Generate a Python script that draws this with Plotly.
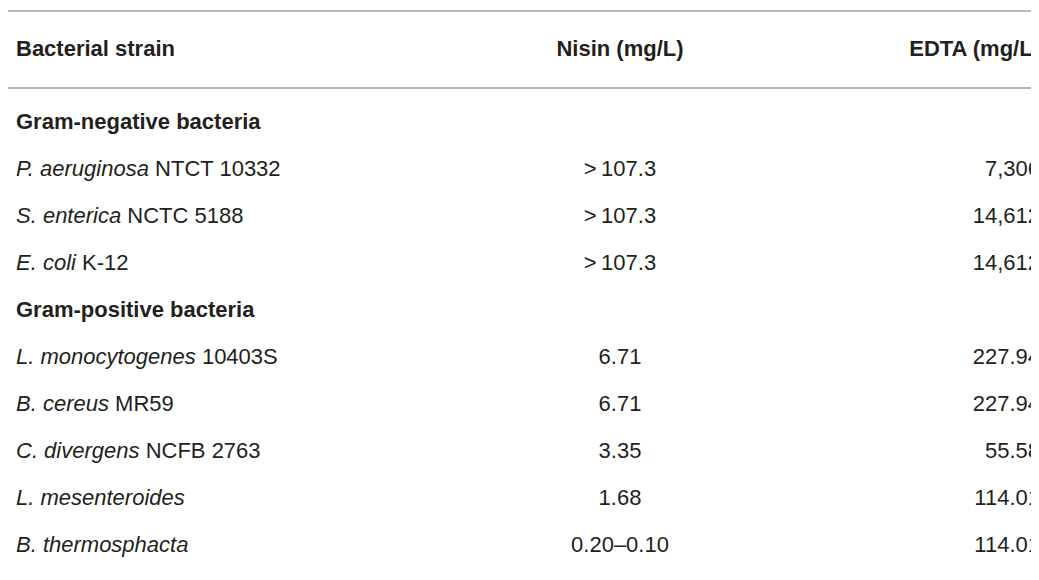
import plotly.graph_objects as go

headers = ["<b>Bacterial strain</b>", "<b>Nisin (mg/L)</b>", "<b>EDTA (mg/L)</b>"]

strains = [
    "<b>Gram-negative bacteria</b>",
    "<i>P. aeruginosa</i> NTCT 10332",
    "<i>S. enterica</i> NCTC 5188",
    "<i>E. coli</i> K-12",
    "<b>Gram-positive bacteria</b>",
    "<i>L. monocytogenes</i> 10403S",
    "<i>B. cereus</i> MR59",
    "<i>C. divergens</i> NCFB 2763",
    "<i>L. mesenteroides</i>",
    "<i>B. thermosphacta</i>",
]
nisin = ["", ">\u2009107.3", ">\u2009107.3", ">\u2009107.3", "",
         "6.71", "6.71", "3.35", "1.68", "0.20–0.10"]
edta = ["", "7,306", "14,612", "14,612", "",
        "227.94", "227.94", "55.58", "114.01", "114.01"]

font = dict(family="Liberation Sans, Arial, sans-serif", size=22, color="#231f20")

H, W = 580, 1039
rows = list(range(1, len(strains) + 1))
header_row = -0.55
# row k sits at pixel 68 + 47k
y_top, y_bot = -68 / 47, (H - 68) / 47

fig = go.Figure()
cols = [(strains, 8, "middle right"), (nisin, 612, "middle center"), (edta, 1032, "middle left")]
for (vals, x, pos), head in zip(cols, headers):
    fig.add_trace(go.Scatter(x=[x] * (len(vals) + 1), y=[header_row] + rows,
                             text=[head] + vals, mode="text", textposition=pos,
                             textfont=font, hoverinfo="skip", showlegend=False,
                             cliponaxis=False))

for px in [3, 80, 576]:
    y = 1 - px / H
    fig.add_shape(type="line", xref="paper", yref="paper", x0=0, x1=1, y0=y, y1=y,
                  line=dict(color="#a0a0a0", width=1.5))

fig.update_xaxes(range=[0, W], visible=False, fixedrange=True)
fig.update_yaxes(range=[y_bot, y_top], visible=False, fixedrange=True)
fig.update_layout(width=W, height=H, margin=dict(l=0, r=0, t=0, b=0),
                  paper_bgcolor="white", plot_bgcolor="white")
fig.write_html("out.html")
